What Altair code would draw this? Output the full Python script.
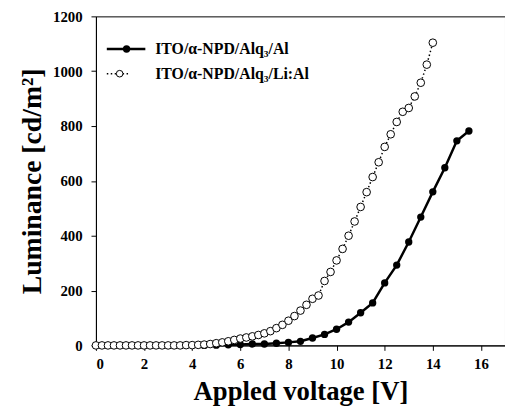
import altair as alt
import pandas as pd

# ---- data ----
v_al = [4.5, 5.0, 5.5, 6.0, 6.5, 7.0, 7.5, 8.0, 8.5, 9.0, 9.5, 10.0, 10.5, 11.0,
        11.5, 12.0, 12.5, 13.0, 13.5, 14.0, 14.5, 15.0, 15.5]
l_al = [0, 1, 2, 3, 5, 5, 8, 11, 15, 27, 40, 59, 85, 119,
        155, 228, 293, 377, 468, 560, 648, 746, 782]

v_lial = [0.0, 0.25, 0.5, 0.75, 1.0, 1.25, 1.5, 1.75, 2.0, 2.25, 2.5, 2.75, 3.0,
          3.25, 3.5, 3.75, 4.0, 4.25, 4.5, 4.75, 5.0, 5.25, 5.5, 5.75, 6.0, 6.25,
          6.5, 6.75, 7.0, 7.25, 7.5, 7.75, 8.0, 8.25, 8.5, 8.75, 9.0, 9.25, 9.5,
          9.75, 10.0, 10.25, 10.5, 10.75, 11.0, 11.25, 11.5, 11.75, 12.0, 12.25,
          12.5, 12.75, 13.0, 13.25, 13.5, 13.75, 14.0]
l_lial = [0, 0, 0, 0, 0, 0, 0, 0, 0, 0, 0, 0, 0,
          0, 0, 1, 1, 2, 3, 5, 8, 11, 15, 20, 25, 29,
          33, 38, 44, 52, 63, 75, 90, 107, 127, 148, 170, 182, 235,
          268, 310, 352, 400, 452, 505, 559, 614, 668, 724, 770,
          815, 852, 866, 908, 958, 1024, 1104]

labels = ["ITO/\u03b1-NPD/Alq\u2083/Al", "ITO/\u03b1-NPD/Alq\u2083/Li:Al"]
x_ticks = [0, 2, 4, 6, 8, 10, 12, 14, 16]
y_ticks = [0, 200, 400, 600, 800, 1000, 1200]

df_a = pd.DataFrame({"V": v_al, "L": l_al})
df_b = pd.DataFrame({"V": v_lial, "L": l_lial})

FONT = "Liberation Serif"

xenc = alt.X("V:Q", scale=alt.Scale(domain=[0, 17], nice=False),
             axis=alt.Axis(values=x_ticks, title="Appled voltage [V]", format="d"))
yenc = alt.Y("L:Q", scale=alt.Scale(domain=[0, 1200], nice=False),
             axis=alt.Axis(values=y_ticks, title="Luminance [cd/m\u00b2]", format="d",
                           titleFontSize=28))

line_a = alt.Chart(df_a).mark_line(color="black", strokeWidth=2.5).encode(x=xenc, y=yenc)
pts_a = alt.Chart(df_a).mark_circle(color="black", size=55, opacity=1).encode(x="V:Q", y="L:Q")
line_b = alt.Chart(df_b).mark_line(color="black", strokeWidth=1.5, strokeDash=[1.5, 2.5]).encode(x="V:Q", y="L:Q")
pts_b = alt.Chart(df_b).mark_circle(fill="white", stroke="black", strokeWidth=1, size=60,
                                    opacity=1, fillOpacity=1).encode(x="V:Q", y="L:Q")

# ---- legend drawn inside the plot (pixel positions) ----
leg_df = pd.DataFrame({"label": labels})
leg_line1 = alt.Chart(leg_df).transform_filter(alt.datum.label == labels[0]).mark_rule(
    color="black", strokeWidth=2.5).encode(x=alt.value(11), x2=alt.value(50), y=alt.value(33))
leg_pt1 = alt.Chart(leg_df).transform_filter(alt.datum.label == labels[0]).mark_circle(
    color="black", size=55, opacity=1).encode(x=alt.value(31), y=alt.value(33))
leg_line2 = alt.Chart(leg_df).transform_filter(alt.datum.label == labels[1]).mark_rule(
    color="black", strokeWidth=1.5, strokeDash=[1.5, 2.5]).encode(x=alt.value(11), x2=alt.value(34), y=alt.value(58))
leg_pt2 = alt.Chart(leg_df).transform_filter(alt.datum.label == labels[1]).mark_circle(
    fill="white", stroke="black", strokeWidth=1, size=45, opacity=1, fillOpacity=1).encode(
    x=alt.value(24), y=alt.value(58))
leg_txt1 = alt.Chart(leg_df).transform_filter(alt.datum.label == labels[0]).mark_text(
    align="left", baseline="middle", font=FONT, fontWeight="bold", fontSize=16, color="black").encode(
    x=alt.value(60), y=alt.value(33), text="label:N")
leg_txt2 = alt.Chart(leg_df).transform_filter(alt.datum.label == labels[1]).mark_text(
    align="left", baseline="middle", font=FONT, fontWeight="bold", fontSize=16, color="black").encode(
    x=alt.value(60), y=alt.value(58), text="label:N")

chart = alt.layer(line_a, pts_a, line_b, pts_b,
                  leg_line1, leg_pt1, leg_line2, leg_pt2, leg_txt1, leg_txt2).properties(
    width=414, height=333,
    autosize=alt.AutoSizeParams(type="none"),
    padding={"left": 89, "top": 6, "right": 0, "bottom": 72},
).configure_view(
    stroke="black", strokeWidth=1
).configure_axis(
    grid=False, domainColor="black", domainWidth=1, tickColor="black", tickSize=5,
    labelFont=FONT, labelFontWeight="bold", labelFontSize=15, labelColor="black",
    titleFont=FONT, titleFontWeight="bold", titleFontSize=27, titleColor="black",
).configure_axisX(
    labelPadding=6, titlePadding=8
).configure_axisY(
    labelPadding=9, titlePadding=6
)

chart.save("out.html", embed_options={"renderer": "svg", "actions": False})
